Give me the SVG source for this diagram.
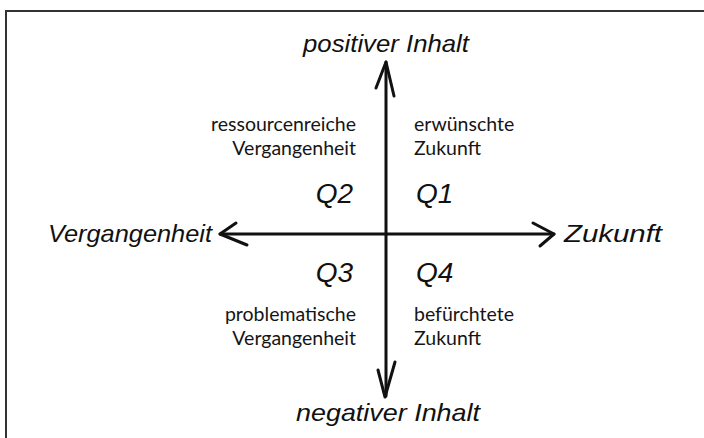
<svg xmlns="http://www.w3.org/2000/svg" width="704" height="438" viewBox="0 0 704 438">
<style>
.hand{font-family:"Liberation Sans","DejaVu Sans",sans-serif;font-style:italic;fill:#111}
.axis{font-size:24px}
.q{font-size:28px}
.lbl{font-family:Lato,"Open Sans",sans-serif;font-size:19.5px;fill:#151515}
.ln{stroke:#111;stroke-width:3;fill:none;stroke-linecap:round;stroke-linejoin:round}
</style>
<rect width="704" height="438" fill="#fff"/>
<path d="M6 438 V11 H704" fill="none" stroke="#333" stroke-width="2"/>
<g id="connectors">
<path class="ln" d="M386 62 V396"/>
<path class="ln" d="M220 234 H554"/>
<path class="ln" d="M376 88 L386 62 L394 96"/>
<path class="ln" d="M378 370 L385 397 L395 362"/>
<path class="ln" d="M236 223 L220 234 L247 245"/>
<path class="ln" d="M533 223 L554 234 L540 246"/>
</g>
<g id="positiv"><text class="hand axis" x="386" y="52" text-anchor="middle" textLength="166" lengthAdjust="spacingAndGlyphs">positiver Inhalt</text></g>
<g id="negativ"><text class="hand axis" x="388" y="421" text-anchor="middle" textLength="184" lengthAdjust="spacingAndGlyphs">negativer Inhalt</text></g>
<g id="vergangenheit"><text class="hand axis" x="48" y="242" textLength="164" lengthAdjust="spacingAndGlyphs">Vergangenheit</text></g>
<g id="zukunft"><text class="hand axis" x="564" y="242" textLength="98" lengthAdjust="spacingAndGlyphs">Zukunft</text></g>
<g id="q2">
<text class="lbl" x="356" y="131" text-anchor="end">ressourcenreiche</text>
<text class="lbl" x="356" y="155" text-anchor="end">Vergangenheit</text>
<text class="hand q" x="353" y="203" text-anchor="end">Q2</text>
</g>
<g id="q1">
<text class="lbl" x="414" y="131">erwünschte</text>
<text class="lbl" x="414" y="155">Zukunft</text>
<text class="hand q" x="416" y="203">Q1</text>
</g>
<g id="q3">
<text class="hand q" x="353" y="282" text-anchor="end">Q3</text>
<text class="lbl" x="356" y="321" text-anchor="end">problematische</text>
<text class="lbl" x="356" y="345" text-anchor="end">Vergangenheit</text>
</g>
<g id="q4">
<text class="hand q" x="416" y="282">Q4</text>
<text class="lbl" x="414" y="321">befürchtete</text>
<text class="lbl" x="414" y="345">Zukunft</text>
</g>
</svg>
